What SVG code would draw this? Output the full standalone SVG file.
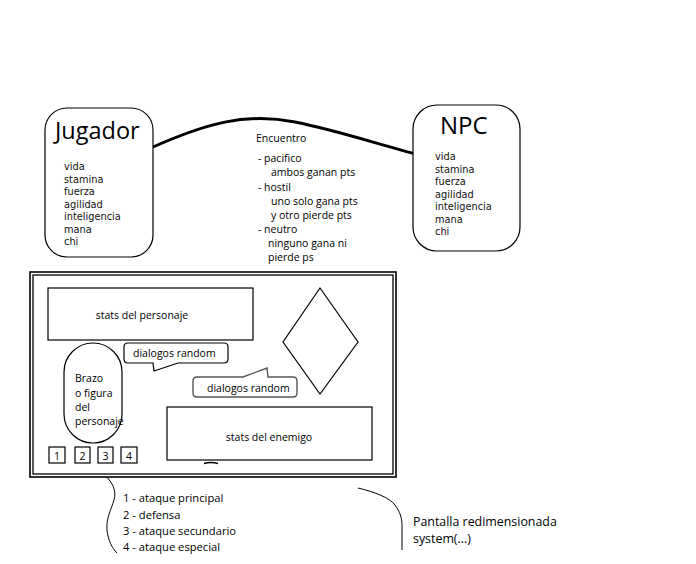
<svg xmlns="http://www.w3.org/2000/svg" width="696" height="564" viewBox="0 0 696 564">
<style>
.box{fill:#fff;stroke:#000;stroke-width:1.2}
.t{font-family:"Open Sans","Noto Sans",sans-serif;fill:#000}
.v{font-family:"DejaVu Sans",sans-serif;font-size:9.8px;fill:#111}
.ln{fill:none;stroke:#000;stroke-width:1}
</style>
<rect width="696" height="564" fill="#fff"/>
<g id="connectors">
<path d="M153,147 C205,124 245,112 295,122 C340,131 380,145 416,154" fill="none" stroke="#000" stroke-width="3"/>
<path class="ln" d="M104,474 C112,482 117,490 114,500 C111,510 106,518 107,530 C108,540 112,548 117,553"/>
<path class="ln" d="M358,488 C375,492 390,498 395,505 C400,512 402,518 402,525 L402,550"/>
</g>
<g id="jugador">
<rect x="45" y="108" width="108" height="149" rx="22" class="box" stroke-width="1.5"/>
<text x="55" y="139" class="t" font-size="23.5">Jugador</text>
<text class="v"><tspan x="64" y="170">vida</tspan><tspan x="64" y="183">stamina</tspan><tspan x="64" y="195">fuerza</tspan><tspan x="64" y="208">agilidad</tspan><tspan x="64" y="220">inteligencia</tspan><tspan x="64" y="233">mana</tspan><tspan x="64" y="245">chi</tspan></text>
</g>
<g id="npc">
<rect x="413" y="105" width="107" height="146" rx="24" class="box" stroke-width="1.5"/>
<text x="440" y="134" class="t" font-size="24">NPC</text>
<text class="v"><tspan x="435" y="160">vida</tspan><tspan x="435" y="173">stamina</tspan><tspan x="435" y="185">fuerza</tspan><tspan x="435" y="198">agilidad</tspan><tspan x="435" y="210">inteligencia</tspan><tspan x="435" y="223">mana</tspan><tspan x="435" y="235">chi</tspan></text>
</g>
<g id="encuentro" class="t" font-size="10.5">
<text x="256" y="142">Encuentro</text>
<text x="258" y="162">- pacifico</text>
<text x="271" y="176">ambos ganan pts</text>
<text x="258" y="191">- hostil</text>
<text x="271" y="205">uno solo gana pts</text>
<text x="271" y="219">y otro pierde pts</text>
<text x="258" y="233">- neutro</text>
<text x="268" y="247">ninguno gana ni</text>
<text x="268" y="261">pierde ps</text>
</g>
<g id="pantalla">
<rect x="30" y="272" width="366" height="205" fill="#fff" stroke="#000" stroke-width="1.6"/>
<rect x="33" y="275" width="360" height="199" fill="none" stroke="#000" stroke-width="1.3"/>
</g>
<g id="stats-personaje">
<rect x="48" y="288" width="205" height="52" class="box"/>
<text x="142" y="319" class="t" font-size="10.5" text-anchor="middle">stats del personaje</text>
</g>
<g id="rombo">
<polygon points="320,288 358,342 320,394 283,342" class="box"/>
</g>
<g id="brazo">
<rect x="64" y="343" width="58" height="100" rx="29" class="box"/>
<text class="t" font-size="10.5"><tspan x="75" y="382">Brazo</tspan><tspan x="75" y="397">o figura</tspan><tspan x="75" y="411">del</tspan><tspan x="75" y="425">personaje</tspan></text>
</g>
<g id="dialogo1">
<path d="M128,343 H224 Q228,343 228,347 V359 Q228,363 224,363 H178 L154,371 L153,363 H128 Q124,363 124,359 V347 Q124,343 128,343 Z" class="box"/>
<text x="133" y="357" class="t" font-size="10.5">dialogos random</text>
</g>
<g id="dialogo2">
<path d="M197,377 H243 L267,368 L268,377 H293 Q297,377 297,381 V393 Q297,397 293,397 H197 Q193,397 193,393 V381 Q193,377 197,377 Z" fill="#fff" stroke="#555" stroke-width="1.4"/>
<text x="207" y="392" class="t" font-size="10.5">dialogos random</text>
</g>
<g id="stats-enemigo">
<rect x="167" y="407" width="205" height="53" class="box"/>
<text x="269" y="441" class="t" font-size="10.5" text-anchor="middle">stats del enemigo</text>
<path d="M204,463.5 Q211,461.5 218,463.5" fill="none" stroke="#000" stroke-width="1.5"/>
</g>
<g id="botones" class="t" font-size="10.5">
<rect x="49" y="447" width="16" height="16" class="box"/><text x="57" y="460" text-anchor="middle">1</text>
<rect x="75" y="447" width="15" height="16" class="box"/><text x="82.5" y="460" text-anchor="middle">2</text>
<rect x="98" y="447" width="15" height="16" class="box"/><text x="105.5" y="460" text-anchor="middle">3</text>
<rect x="121" y="447" width="16" height="16" class="box"/><text x="129" y="460" text-anchor="middle">4</text>
</g>
<g id="leyenda" class="t" font-size="11.2">
<text x="123" y="502">1 - ataque principal</text>
<text x="123" y="519">2 - defensa</text>
<text x="123" y="535">3 - ataque secundario</text>
<text x="123" y="551">4 - ataque especial</text>
</g>
<g id="nota" class="t" font-size="12.4">
<text x="413" y="526">Pantalla redimensionada</text>
<text x="413" y="543">system(...)</text>
</g>
</svg>
